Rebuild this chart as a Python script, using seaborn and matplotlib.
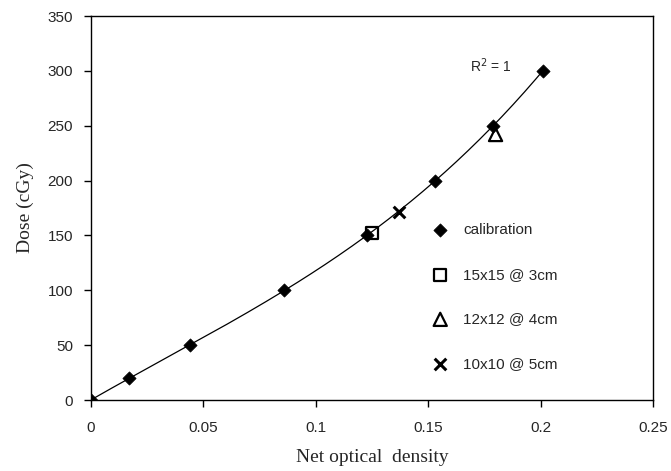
import numpy as np
import pandas as pd
import seaborn as sns
import matplotlib.pyplot as plt

sns.set_style("ticks")
plt.rcParams["font.family"] = ["Liberation Sans", "DejaVu Sans"]

# Calibration data
cal_od = [0.0, 0.017, 0.044, 0.086, 0.123, 0.153, 0.179, 0.201]
cal_dose = [0, 20, 50, 100, 150, 200, 250, 300]

# Measured points
meas_labels = ["15x15 @ 3cm", "12x12 @ 4cm", "10x10 @ 5cm"]
meas_od = [0.125, 0.180, 0.137]
meas_dose = [152, 242, 171]

# Polynomial trendline through the calibration points
coef = np.polyfit(cal_od, cal_dose, 3)
fit_x = np.linspace(0, max(cal_od), 200)
fit = pd.DataFrame({"od": fit_x, "dose": np.polyval(coef, fit_x)})

fig = plt.figure(figsize=(6.71, 4.71), dpi=100)
ax = fig.add_axes([0.1356, 0.1507, 0.8374, 0.8153])

sns.lineplot(data=fit, x="od", y="dose", color="black", linewidth=0.9, ax=ax)
sns.scatterplot(x=cal_od, y=cal_dose, marker="D", color="black", s=45,
                edgecolor="black", label="calibration", ax=ax, zorder=3)

styles = [("s", "none", 1.6, 80), ("^", "none", 1.6, 90), ("x", "black", 2.2, 70)]
for lab, x, y, (m, fc, lw, sz) in zip(meas_labels, meas_od, meas_dose, styles):
    if m == "x":
        ax.scatter([x], [y], marker=m, s=sz, color="black", linewidths=lw,
                   label=lab, zorder=4)
    else:
        ax.scatter([x], [y], marker=m, s=sz, facecolors=fc, edgecolors="black",
                   linewidths=lw, label=lab, zorder=4)

ax.text(0.178, 296, "R$^2$ = 1", fontsize=10, ha="center", va="bottom")

ax.set_xlim(0, 0.25)
ax.set_ylim(0, 350)
ax.set_xticks([0, 0.05, 0.1, 0.15, 0.2, 0.25])
ax.set_xticklabels(["0", "0.05", "0.1", "0.15", "0.2", "0.25"])
ax.set_yticks(range(0, 351, 50))
ax.tick_params(axis="both", which="major", direction="out", bottom=True,
               left=True, top=False, right=False, labelsize=11,
               length=5, width=1, color="black")
ax.tick_params(axis="x", pad=10)
ax.tick_params(axis="y", pad=8)
for s in ax.spines.values():
    s.set_visible(True)
    s.set_linewidth(1)
    s.set_color("black")

ax.set_xlabel("Net optical  density", family="Liberation Serif", fontsize=14,
              labelpad=10)
ax.set_ylabel("Dose (cGy)", family="Liberation Serif", fontsize=14,
              labelpad=10)

leg = ax.legend(loc="lower right", bbox_to_anchor=(0.855, 0.04), frameon=False,
                fontsize=11, labelspacing=2.0, handletextpad=1.0,
                handlelength=1.0)

fig.savefig("out.png", dpi=100)
